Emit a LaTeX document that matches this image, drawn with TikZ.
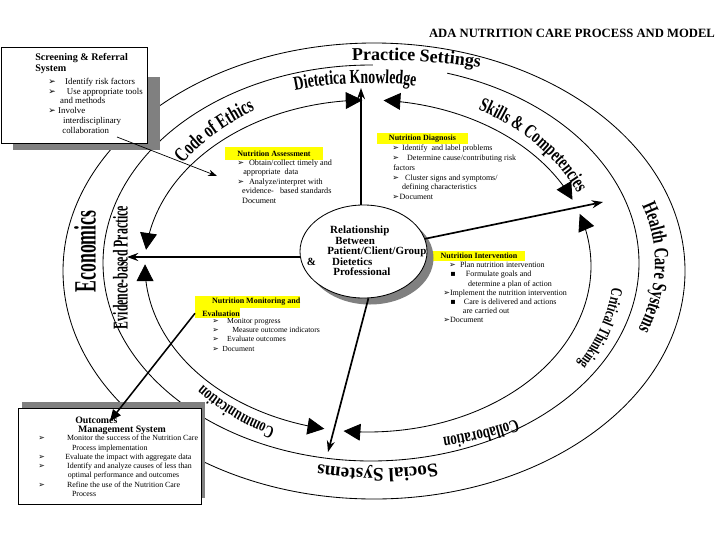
\documentclass[tikz,border=0pt]{standalone}
\usepackage{fontspec}
\setmainfont{Liberation Serif}
\newfontfamily\symfont{DejaVu Sans}
\newfontfamily\condfont{Liberation Serif}[FakeStretch=0.7]
\usetikzlibrary{arrows.meta,shapes.geometric,decorations.text,positioning}
\definecolor{shadowgray}{RGB}{128,128,128}
\definecolor{marker}{RGB}{255,255,0}
\newcommand{\bul}{{\symfont\char"27A2}}
\newcommand{\sqbul}{{\symfont\char"25AA}}
\newcommand{\wordart}[1]{\condfont\bfseries\fontsize{#1}{#1}\selectfont}

\begin{document}
\begin{tikzpicture}[
    x=0.025cm, y=-0.025cm,
    ring/.style={line width=0.6pt},
    cycle/.style={
        line width=0.6pt,
        {Triangle[length=4.2mm,width=4.2mm]}-{Triangle[length=4.2mm,width=4.2mm]}
    },
    spoke/.style={line width=1.2pt, -{Stealth[length=2.8mm,width=2mm]}},
    pointer/.style={line width=0.5pt, -{Stealth[length=2.2mm,width=1.6mm]}},
    feed/.style={line width=1.1pt, -{Triangle[length=2.8mm,width=2.4mm]}},
    ringtext/.style={decorate, decoration={text along path, text={#1}}},
    panel/.style={draw=black, line width=0.6pt, fill=white, inner sep=0pt},
    heading/.style={
        fill=marker,
        inner xsep=0pt,
        inner ysep=1.5pt,
        font=\bfseries\fontsize{5.7}{6.5}\selectfont
    },
    body/.style={anchor=north west, inner sep=0pt, align=left}
]

\path[use as bounding box, fill=white] (0,0) rectangle (720,540);

\node[font=\bfseries\fontsize{9}{9}\selectfont] (title) at (572,33) {ADA NUTRITION CARE PROCESS AND MODEL};

% rings (the middle one breaks under Practice Settings)
\draw[ring] (374,271) ellipse[x radius=311, y radius=228];
\draw[ring] plot[domain=286.5:630.4, samples=160, smooth] ({371+268*cos(\x)},{263+198*sin(\x)});

% inner cycle, four arcs meeting at the spokes
\draw[cycle] plot[domain=274:336.5, samples=40, smooth] ({368+223*cos(\x)},{266+166*sin(\x)});
\draw[cycle] plot[domain=341.7:456.3, samples=60, smooth] ({368+223*cos(\x)},{266+166*sin(\x)});
\draw[cycle] plot[domain=101.3:180.6, samples=40, smooth] ({368+223*cos(\x)},{266+166*sin(\x)});
\draw[cycle] plot[domain=185.6:268.6, samples=40, smooth] ({368+223*cos(\x)},{266+166*sin(\x)});

% outer band
\path[ringtext={|\bfseries\fontsize{12.8}{12.8}\selectfont|Practice Settings}]
    plot[domain=267:330, samples=50] ({373+400*cos(\x)},{263+203*sin(\x)});
\path[ringtext={|\wordart{14.6}|Health Care Systems}]
    plot[domain=-17.3:60, samples=50] ({373+282*cos(\x)},{263+195*sin(\x)});
\path[ringtext={|\bfseries\fontsize{13.6}{13.6}\selectfont|Social Systems}]
    plot[domain=76.6:150, samples=50] ({373+276*cos(\x)},{263+206*sin(\x)});
\node[rotate=90, font=\wordart{22}] (econ) at (85,251.5) {\scalebox{0.82}[1]{Economics}};

% inner band
\path[ringtext={|\wordart{14}|Dietetica Knowledge}]
    plot[domain=253.9:330, samples=50] ({369+267*cos(\x)},{265+182*sin(\x)});
\path[ringtext={|\wordart{14.7}|Code of Ethics}]
    plot[domain=214.6:290, samples=50] ({369+226*cos(\x)},{265+179*sin(\x)});
\path[ringtext={|\wordart{14}|Skills {\&} Competencies}]
    plot[domain=298.6:380, samples=50] ({369+228*cos(\x)},{265+177*sin(\x)});
\path[ringtext={|\wordart{11.5}|Critical Thinking}]
    plot[domain=6.9:80, samples=50] ({369+245*cos(\x)},{265+191*sin(\x)});
\path[ringtext={|\wordart{13}|Collaboration}]
    plot[domain=60.5:130, samples=50] ({369+300*cos(\x)},{265+178*sin(\x)});
\path[ringtext={|\wordart{12.5}|Communication}]
    plot[domain=115:190, samples=50] ({369+222*cos(\x)},{265+180*sin(\x)});
\node[rotate=90, font=\wordart{15}] (evid) at (120.5,267.5) {\scalebox{0.8}[1]{Evidence-based Practice}};

% screening box
\fill[shadowgray] (13,77) rectangle (160,150);
\node[panel, anchor=north west, minimum width=3.65cm, minimum height=2.4cm] (scrpanel) at (0.5,47) {};
\node[body, font=\bfseries\fontsize{7.2}{7.8}\selectfont] (scrtitle) at (35,53) {Screening \& Referral\\System};
\node[body, font=\fontsize{6.3}{6.9}\selectfont] (scrlist) at (48,78) {%
    \bul\hspace{6.7pt}Identify risk factors\\
    \bul\hspace{8pt}Use appropriate tools\\
    \hspace*{8.5pt}and methods\\
    \bul\hspace{1.8pt}Involve\\
    \hspace*{10.5pt}interdisciplinary\\
    \hspace*{10pt}collaboration};

% outcomes box
\fill[shadowgray] (22,402) rectangle (205,498);
\node[panel, anchor=north west, minimum width=4.575cm, minimum height=2.4cm] (outpanel) at (18,408) {};
\node[body, font=\bfseries\fontsize{7}{6}\selectfont] (outtitle) at (75,417) {Outcomes\\\hspace*{2pt}Management System};
\node[body, font=\fontsize{5.6}{6.6}\selectfont] (outlist) at (38,435) {%
    \bul\hspace{15.9pt}Monitor the success of the Nutrition Care\\
    \hspace*{24pt}Process implementation\\
    \bul\hspace{14.5pt}Evaluate the impact with aggregate data\\
    \bul\hspace{15.9pt}Identify and analyze causes of less than\\
    \hspace*{21pt}optimal performance and outcomes\\
    \bul\hspace{15.9pt}Refine the use of the Nutrition Care\\
    \hspace*{24pt}Process};

% assessment
\node[heading, minimum width=2.45cm, minimum height=0.32cm] (asshead) at (274,153.5) {Nutrition Assessment};
\node[body, font=\fontsize{5.8}{6.7}\selectfont] (asslist) at (237,159.5) {%
    \bul\hspace{3.5pt}Obtain/collect timely and\\
    \hspace*{4.3pt}appropriate\ \ data\\
    \bul\hspace{3.5pt}Analyze/interpret with\\
    \hspace*{3.5pt}evidence-\ \ \ based standards\\
    \hspace*{3.5pt}Document};

% diagnosis
\node[heading, minimum width=2.275cm, minimum height=0.275cm] (diaghead) at (422.5,138.5) {Nutrition Diagnosis};
\node[body, font=\fontsize{5.7}{6.9}\selectfont] (diaglist) at (392,145) {%
    \bul\hspace{2.3pt}Identify\ \ and label problems\\
    \bul\hspace{5.8pt}Determine cause/contributing risk\\
    \hspace*{0.7pt}factors\\
    \bul\hspace{4.4pt}Cluster signs and symptoms/\\
    \hspace*{7pt}defining characteristics\\
    \bul\hspace{0.5pt}Document};

% intervention
\node[heading, minimum width=2.3cm, minimum height=0.25cm] (inthead) at (479,256) {Nutrition Intervention};
\node[body, font=\fontsize{5.7}{6.5}\selectfont] (intlist) at (443,262) {%
    \hspace*{4.2pt}\bul\hspace{3pt}Plan nutrition intervention\\
    \hspace*{5pt}\sqbul\hspace{7.2pt}Formulate goals and\\
    \hspace*{17.7pt}determine a plan of action\\
    \bul Implement the nutrition intervention\\
    \hspace*{5pt}\sqbul\hspace{5.8pt}Care is delivered and actions\\
    \hspace*{14pt}are carried out\\
    \bul Document};

% monitoring and evaluation
\node[heading, anchor=west] (monhead) at (195,302) {\hspace*{12pt}Nutrition Monitoring and};
\node[heading, anchor=north west] (monhead2) at (monhead.south west) {\hspace*{5pt}Evaluation};
\node[body, font=\fontsize{5.5}{6.6}\selectfont] (monlist) at (212,318) {%
    \bul\hspace{6pt}Monitor progress\\
    \bul\hspace{9.6pt}Measure outcome indicators\\
    \bul\hspace{6pt}Evaluate outcomes\\
    \bul\hspace{2.5pt}Document};

% centre
\fill[shadowgray] (370,258) ellipse[x radius=63.5, y radius=46.5];
\node[ellipse, draw=black, line width=0.6pt, fill=white, minimum width=3.175cm, minimum height=2.325cm, inner sep=0pt] (rel) at (363.5,251.5) {};
\node[body, font=\bfseries\fontsize{7.8}{7.4}\selectfont] (reltext) at (327,226) {%
    \hspace*{2.1pt}Relationship\\
    \hspace*{5.7pt}Between\\
    Patient/Client/Group\\
    \llap{\&\hspace{8pt}}\hspace*{3.5pt}Dietetics\\
    \hspace*{4.3pt}Professional};

% spokes and pointers
\coordinate (lend) at (127,257);
\coordinate (uend) at (361,88);
\coordinate (rend) at (603,202);
\coordinate (dend) at (328,452);
\coordinate (scrfrom) at (117,137);
\coordinate (scrto) at (217,176);
\coordinate (outtip) at (110,421);

\draw[spoke] (rel.west |- lend) -- (lend);
\draw[spoke] (rel.north -| uend) -- (uend);
\draw[spoke] (rel) -- (rend);
\draw[spoke] (rel.276) -- (dend);
\draw[pointer] (scrfrom) -- (scrto);
\draw[feed] (monhead2.west) -- (outtip);

\end{tikzpicture}
\end{document}
